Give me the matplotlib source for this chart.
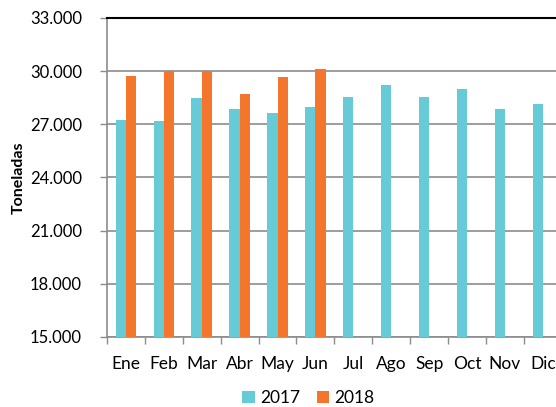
import numpy as np
import matplotlib.pyplot as plt
from matplotlib.ticker import FuncFormatter

meses = ["Ene", "Feb", "Mar", "Abr", "May", "Jun", "Jul", "Ago", "Sep", "Oct", "Nov", "Dic"]
t2017 = [27250, 27200, 28480, 27840, 27650, 27990, 28570, 29210, 28570, 28970, 27840, 28140]
t2018 = [29700, 30000, 30000, 28720, 29650, 30115]

c2017 = "#66CAD7"
c2018 = "#F3762C"

plt.rcParams['font.family'] = ['Lato', 'DejaVu Sans']

fig = plt.figure(figsize=(5.56, 4.07), dpi=100)
ax = fig.add_axes([0.1924, 0.172, 0.818, 0.7838])

x = np.arange(len(meses))
w = 0.27
ax.bar(x[:len(t2017)] - w / 2, t2017, w, color=c2017, label="2017", zorder=3)
ax.bar(x[:len(t2018)] + w / 2, t2018, w, color=c2018, label="2018", zorder=3)

ax.set_ylim(15000, 33000)
ax.set_xlim(-0.5, len(meses) - 0.5)
ax.set_yticks(np.arange(15000, 33001, 3000))
ax.yaxis.set_major_formatter(FuncFormatter(lambda v, p: f"{int(v):,}".replace(",", ".")))
ax.grid(axis="y", color="#8c8c8c", linewidth=1.2, zorder=0)

ax.set_xticks(x)
ax.set_xticklabels(meses)
ax.set_xticks(np.arange(-0.5, len(meses), 1), minor=True)
ax.tick_params(axis="x", which="major", length=0, pad=14, labelsize=12.5)
ax.tick_params(axis="x", which="minor", length=5, color="#8c8c8c", width=1)
ax.tick_params(axis="y", length=5, color="#8c8c8c", width=1, labelsize=12, pad=13)

for s in ["left", "bottom"]:
    ax.spines[s].set_color("#8c8c8c")
    ax.spines[s].set_linewidth(1.2)
ax.spines["right"].set_visible(False)
ax.spines["top"].set_color("black")
ax.spines["top"].set_linewidth(1.5)

ax.set_ylabel("Toneladas", fontweight="bold", fontsize=11.5, labelpad=3)

fig.legend(loc="center", bbox_to_anchor=(0.555, 0.022), ncol=2, frameon=False,
           fontsize=12.5, handlelength=0.7, handleheight=0.7, handletextpad=0.3,
           columnspacing=1.0)

plt.savefig("out.png", dpi=100)
